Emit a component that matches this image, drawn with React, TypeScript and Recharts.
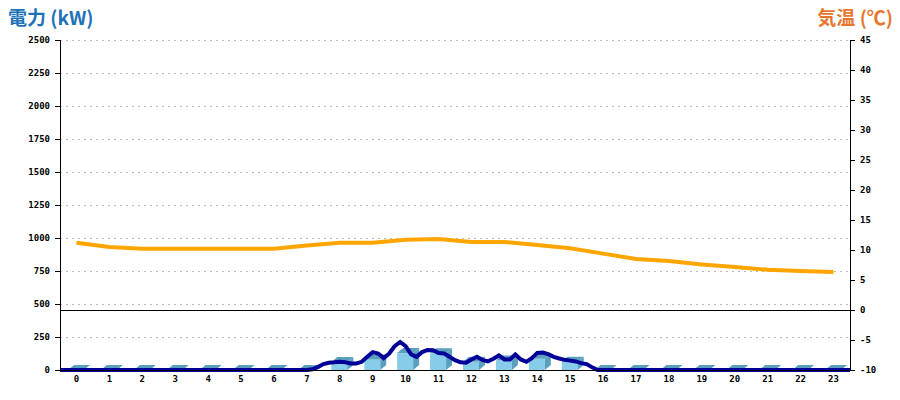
import {
  ComposedChart,
  Bar,
  Line,
  XAxis,
  YAxis,
  CartesianGrid,
  ReferenceLine,
} from "recharts";

// hourly categories
const hours = [
  "0", "1", "2", "3", "4", "5", "6", "7", "8", "9", "10", "11",
  "12", "13", "14", "15", "16", "17", "18", "19", "20", "21", "22", "23",
];

// hourly power (kW) shown as bars
const hourlyKw = [0, 0, 0, 0, 0, 0, 0, 0, 60, 80, 128, 126, 63, 72, 86, 63, 0, 0, 0, 0, 0, 0, 0, 0];

// hourly temperature (C)
const hourlyTemp = [
  11.2, 10.5, 10.2, 10.2, 10.2, 10.2, 10.2, 10.75, 11.2, 11.2, 11.7, 11.85,
  11.35, 11.35, 10.85, 10.3, 9.4, 8.5, 8.15, 7.6, 7.15, 6.7, 6.5, 6.35,
];

// 10-minute power readings (kW)
const powerTimes = [
  "0:00", "7:30", "7:40", "7:50", "8:00", "8:10", "8:20", "8:30", "8:40", "8:50",
  "9:00", "9:10", "9:20", "9:30", "9:40", "9:50", "10:00", "10:10", "10:20", "10:30",
  "10:40", "10:50", "11:00", "11:10", "11:20", "11:30", "11:40", "11:50", "12:00", "12:10",
  "12:20", "12:30", "12:40", "12:50", "13:00", "13:10", "13:20", "13:30", "13:40", "13:50",
  "14:00", "14:10", "14:20", "14:30", "14:40", "14:50", "15:00", "15:10", "15:20", "15:30",
  "15:40", "15:50", "16:00", "16:10", "16:20", "24:00",
];
const powerKw = [
  0, 0, 5, 22, 45, 55, 58, 63, 58, 50,
  50, 62, 101, 135, 125, 90, 125, 180, 212, 180,
  118, 100, 136, 152, 150, 128, 125, 100, 75, 58,
  55, 80, 100, 76, 65, 85, 110, 80, 80, 118,
  80, 62, 90, 130, 132, 120, 100, 87, 77, 71,
  65, 52, 45, 20, 0, 0,
];

const kwTicks = [0, 250, 500, 750, 1000, 1250, 1500, 1750, 2000, 2250, 2500];
const tempTicks = [-10, -5, 0, 5, 10, 15, 20, 25, 30, 35, 40, 45];

const hourData = hours.map((h, i) => ({ hour: h, kw: hourlyKw[i], temp: hourlyTemp[i] }));

const toHours = (s: string) => {
  const [h, m] = s.split(":").map(Number);
  return h + m / 60;
};
const powerData = powerTimes.map((s, i) => ({ t: toHours(s), kw: powerKw[i] }));

const tickStyle = { fontFamily: "DejaVu Sans Mono", fontSize: 9, fontWeight: "bold", fill: "#000" };
const axisLine = { stroke: "#000", shapeRendering: "crispEdges" };

const Bar3D = (props: any) => {
  const { x, y, width, height } = props;
  if (x == null || y == null) return null;
  const d = 6;
  const u = 5;
  const h = height || 0;
  return (
    <g>
      {h > 0 && <rect x={x} y={y} width={width} height={h} fill="#87CDE9" />}
      <polygon
        points={`${x},${y} ${x + d},${y - u} ${x + width + d},${y - u} ${x + width},${y}`}
        fill="#5B9FBF"
      />
      {h > 0 && (
        <polygon
          points={`${x + width},${y} ${x + width + d},${y - u} ${x + width + d},${y + h - u} ${x + width},${y + h}`}
          fill="#5B9FBF"
        />
      )}
    </g>
  );
};

const titleStyle = {
  position: "absolute" as const,
  top: 3,
  fontFamily: "'Noto Sans CJK JP', sans-serif",
  fontWeight: "bold",
  fontSize: 19,
};

export default function App() {
  return (
    <div style={{ position: "relative", width: 900, height: 400, background: "#fff" }}>
      <style>{`body{margin:0}`}</style>
      <div style={{ ...titleStyle, left: 8, color: "#1d72b8" }}>電力 (kW)</div>
      <div style={{ ...titleStyle, right: 7, color: "#e8772e" }}>気温 (℃)</div>
      <ComposedChart
        width={900}
        height={400}
        data={hourData}
        margin={{ top: 40, right: 0, bottom: 0, left: 0 }}
      >
        <CartesianGrid
          xAxisId="cat"
          yAxisId="kw"
          vertical={false}
          stroke="#bbb"
          strokeDasharray="2 4"
          shapeRendering="crispEdges"
        />
        <XAxis
          xAxisId="cat"
          dataKey="hour"
          height={30}
          tickLine={false}
          tickSize={4}
          axisLine={axisLine}
          tick={tickStyle}
          interval={0}
        />
        <XAxis xAxisId="time" type="number" dataKey="t" domain={[0, 24]} hide />
        <YAxis
          yAxisId="kw"
          width={60}
          domain={[0, 2500]}
          ticks={kwTicks}
          interval={0}
          tickSize={5}
          tickMargin={5}
          axisLine={axisLine}
          tickLine={axisLine}
          tick={tickStyle}
        />
        <YAxis
          yAxisId="temp"
          orientation="right"
          width={50}
          domain={[-10, 45]}
          ticks={tempTicks}
          interval={0}
          tickSize={5}
          tickMargin={5}
          axisLine={axisLine}
          tickLine={axisLine}
          tick={tickStyle}
        />
        <ReferenceLine
          yAxisId="temp"
          xAxisId="cat"
          y={0}
          stroke="#000"
          strokeWidth={1}
          shapeRendering="crispEdges"
        />
        <Bar
          xAxisId="cat"
          yAxisId="kw"
          dataKey="kw"
          barSize={16}
          shape={<Bar3D />}
          isAnimationActive={false}
        />
        <Line
          xAxisId="cat"
          yAxisId="temp"
          dataKey="temp"
          type="linear"
          stroke="#FFA500"
          strokeWidth={4}
          dot={false}
          activeDot={false}
          isAnimationActive={false}
        />
        <Line
          xAxisId="time"
          yAxisId="kw"
          data={powerData}
          dataKey="kw"
          type="linear"
          stroke="#000099"
          strokeWidth={4}
          dot={false}
          activeDot={false}
          isAnimationActive={false}
        />
      </ComposedChart>
    </div>
  );
}
